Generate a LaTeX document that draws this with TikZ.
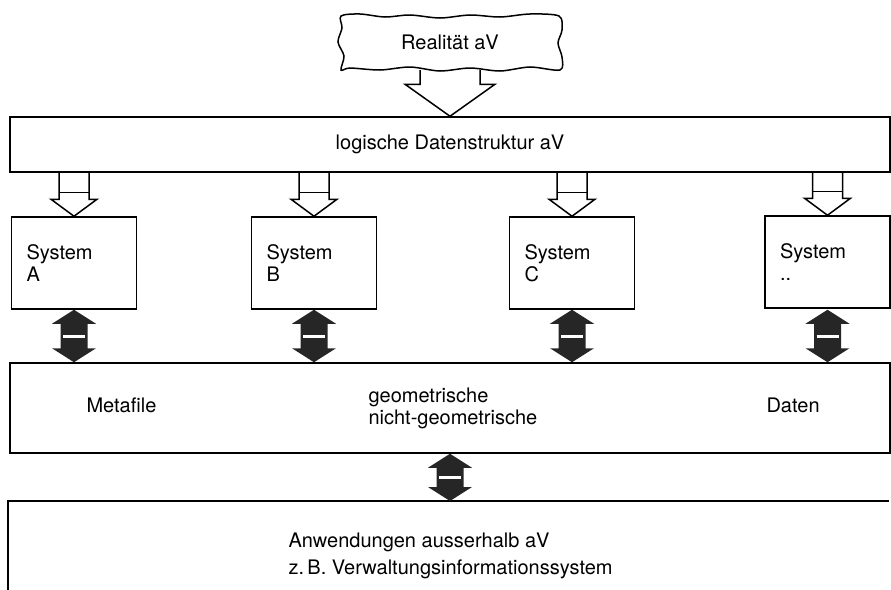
\documentclass[tikz,border=0pt]{standalone}
\usepackage{fontspec}
\setmainfont{TeX Gyre Heros}
\usetikzlibrary{calc,positioning}

% hollow arrow: #1 = target node (tip on its north), #2 = source node
\newcommand{\hollowarrow}[2]{%
  \draw[hollow] ($(#1.north |- #2.south)+(-15,0)$) -- ($(#1.north)+(-15,17)$)
     -- ($(#1.north)+(-23,17)$) -- (#1.north) -- ($(#1.north)+(23,17)$)
     -- ($(#1.north)+(15,17)$) -- ($(#1.north |- #2.south)+(15,0)$);
  \draw[hollow] ($(#1.north)+(-15,24)$) -- ($(#1.north)+(15,24)$);
}
% black double arrow between #1 (top) and #2 (bottom)
\newcommand{\dblarrow}[2]{%
  \fill[solidarrow] (#1) -- ++(22,-14) -- ++(-8.5,0) -- ($(#2)+(13.5,14)$)
     -- ++(8.5,0) -- (#2) -- ++(-22,14) -- ++(8.5,0) -- ($(#1)+(-13.5,-14)$)
     -- ++(-8.5,0) -- cycle;
  \draw[white,line width=3pt] ($($(#1)!0.5!(#2)$)+(-11,0)$) -- ($($(#1)!0.5!(#2)$)+(11,0)$);
}

\begin{document}
\begin{tikzpicture}[x=1pt,y=1pt,
  every node/.style={font=\fontsize{20}{22}\selectfont},
  box/.style={draw,line width=1.5pt,inner sep=0pt},
  sysbox/.style={box,minimum width=125pt,minimum height=92pt,
    text width=95pt,inner xsep=15pt,align=left},
  hollow/.style={line width=1.5pt,line join=miter},
  solidarrow/.style={fill=black!85}
  ]
\useasboundingbox (0,0) rectangle (891,-589);

% Realitaet
\node[minimum width=222pt,minimum height=56pt] (real) at (450,-42) {Realität aV};
\draw[line width=1.5pt] plot[smooth cycle,tension=0.5] coordinates {
  (341,-16) (360,-14) (385,-17) (410,-15) (440,-18) (470,-15) (500,-17)
  (530,-14) (559,-16) (562,-30) (558,-43) (562,-57) (560,-70) (530,-67)
  (500,-71) (470,-68) (440,-71) (410,-67) (380,-70) (350,-68) (341,-70)
  (344,-56) (338,-42) (342,-28)};

\node[box,minimum width=880pt,minimum height=55pt] (logic) at (450,-144.5)
  {logische Datenstruktur aV};

% big hollow arrow
\draw[hollow] ($(real.south)+(-30,0)$) -- ($(logic.north)+(-30,32)$)
   -- ($(logic.north)+(-45,32)$) -- (logic.north) -- ($(logic.north)+(45,32)$)
   -- ($(logic.north)+(30,32)$) -- ($(real.south)+(30,0)$);

% systems
\node[sysbox] (sysA) at (74,-263)  {System\\A};
\node[sysbox] (sysB) at (314,-263) {System\\B};
\node[sysbox] (sysC) at (572,-263) {System\\C};
\node[sysbox] (sysD) at (827.5,-262) {System\\..};

\foreach \s in {sysA,sysB,sysC,sysD}
  \hollowarrow{\s}{logic};

% metafile / daten
\node[box,minimum width=880pt,minimum height=90pt] (daten) at (450,-408) {};
\node[anchor=west] (meta) at (83,-405) {Metafile};
\node[anchor=west,align=left] (geo) at (365,-408)
  {geometrische\\nicht-geometrische};
\node[anchor=west] (dat) at (763,-405) {Daten};

\foreach \s in {sysA,sysB,sysC,sysD}
  \dblarrow{\s.south |- sysA.south}{\s.south |- daten.north};

% anwendungen
\coordinate (anwtop) at (450,-501);
\draw[line width=1.5pt] (8,-595) -- (8,-501) -- (889,-501);
\node[anchor=west,align=left,font=\fontsize{20}{27}\selectfont] (anw) at (285,-556)
  {Anwendungen ausserhalb aV\\z.\,B. Verwaltungsinformationssystem};

\dblarrow{daten.south}{anwtop};
\end{tikzpicture}
\end{document}
